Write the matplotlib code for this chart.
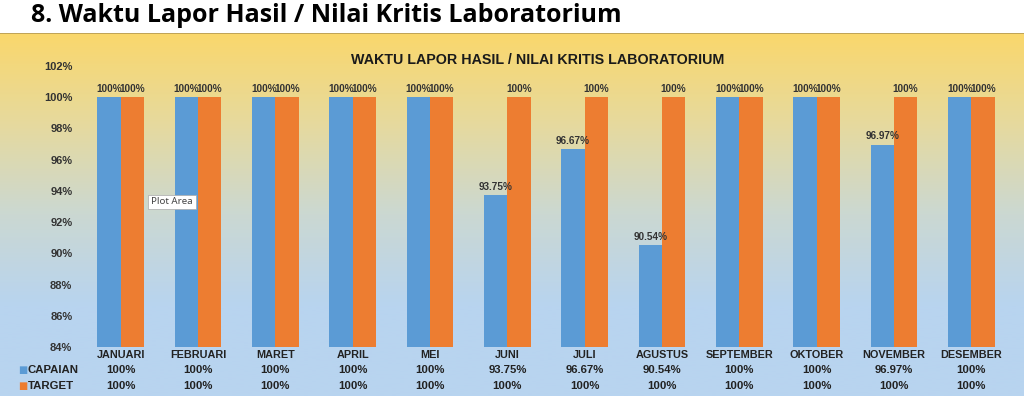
import numpy as np
import matplotlib.pyplot as plt
from matplotlib.colors import LinearSegmentedColormap
from matplotlib.transforms import blended_transform_factory

months = ['JANUARI', 'FEBRUARI', 'MARET', 'APRIL', 'MEI', 'JUNI', 'JULI',
          'AGUSTUS', 'SEPTEMBER', 'OKTOBER', 'NOVEMBER', 'DESEMBER']
capaian = [100, 100, 100, 100, 100, 93.75, 96.67, 90.54, 100, 100, 96.97, 100]
target = [100] * 12
capaian_txt = ['100%', '100%', '100%', '100%', '100%', '93.75%', '96.67%',
               '90.54%', '100%', '100%', '96.97%', '100%']
target_txt = ['100%'] * 12

blue = '#5B9BD5'
orange = '#ED7D31'
txt = '#222222'

fig = plt.figure(figsize=(10.24, 3.96), dpi=100)

# gradient background of the chart block
bg = fig.add_axes([0, 0, 1, 1 - 33 / 396])
cmap = LinearSegmentedColormap.from_list('bg', ['#FAD76C', '#E6DA9E', '#CBD8D2', '#B8D4EF', '#B8D4F0'])
bg.imshow(np.linspace(0, 1, 256).reshape(-1, 1), aspect='auto', cmap=cmap,
          extent=[0, 1, 0, 1], origin='upper')
bg.axhline(1, color='#B59A55', lw=1.2)
bg.axis('off')

fig.text(0.03, 1 - 16 / 396, '8. Waktu Lapor Hasil / Nilai Kritis Laboratorium',
         fontsize=18, fontweight='bold', family='Open Sans', va='center', ha='left')

ax = fig.add_axes([82 / 1024, 1 - 347 / 396, (1010 - 82) / 1024, (347 - 66) / 396])
ax.patch.set_alpha(0)
x = np.arange(len(months))
w = 0.3
ax.bar(x - w / 2, capaian, w, color=blue)
ax.bar(x + w / 2, target, w, color=orange)
ax.set_ylim(84, 102)
ax.set_xlim(-0.5, len(months) - 0.5)
ax.set_yticks(np.arange(84, 103, 2))
ax.set_yticklabels([f'{v}%' for v in range(84, 103, 2)], fontsize=8,
                   fontweight='bold', family='Liberation Sans', color='#333333')
ax.tick_params(axis='y', length=0, pad=7)
ax.tick_params(axis='x', length=0, pad=2)
ax.set_xticks(x)
ax.set_xticklabels(months, fontsize=7.8, fontweight='bold', family='Liberation Sans',
                   color=txt)
for s in ax.spines.values():
    s.set_visible(False)

for i in range(len(months)):
    ax.text(x[i] - w / 2, capaian[i] + 0.2, capaian_txt[i], ha='center', va='bottom',
            fontsize=7.2, fontweight='bold', family='Liberation Sans', color='#333333')
    ax.text(x[i] + w / 2, target[i] + 0.2, target_txt[i], ha='center', va='bottom',
            fontsize=7.2, fontweight='bold', family='Liberation Sans', color='#333333')

# data table rows
tr = blended_transform_factory(ax.transData, fig.transFigure)
y_cap = 1 - 370 / 396
y_tar = 1 - 386 / 396
for i in range(len(months)):
    ax.text(x[i], y_cap, capaian_txt[i], transform=tr, ha='center', va='center',
            fontsize=8.2, fontweight='bold', family='Liberation Sans', color=txt)
    ax.text(x[i], y_tar, target_txt[i], transform=tr, ha='center', va='center',
            fontsize=8.2, fontweight='bold', family='Liberation Sans', color=txt)
for yy, lab, col in [(y_cap, 'CAPAIAN', blue), (y_tar, 'TARGET', orange)]:
    fig.text(23 / 1024, yy, '\u25A0', color=col, fontsize=7, va='center', ha='center')
    fig.text(28 / 1024, yy, lab, fontsize=8.2, fontweight='bold', family='Liberation Sans',
             color=txt, va='center', ha='left')

fig.text(538 / 1024, 1 - 60 / 396, 'WAKTU LAPOR HASIL / NILAI KRITIS LABORATORIUM',
         fontsize=10.3, fontweight='bold', family='Liberation Sans', color='#1a1a1a',
         ha='center', va='center')

# tooltip visible in the screenshot
fig.text(151 / 1024, 1 - 202 / 396, 'Plot Area', fontsize=7, family='Noto Sans',
         color='#444444', va='center', ha='left',
         bbox=dict(boxstyle='square,pad=0.3', fc='white', ec='#aaaaaa', lw=0.5))

fig.savefig('out.png', dpi=100)
